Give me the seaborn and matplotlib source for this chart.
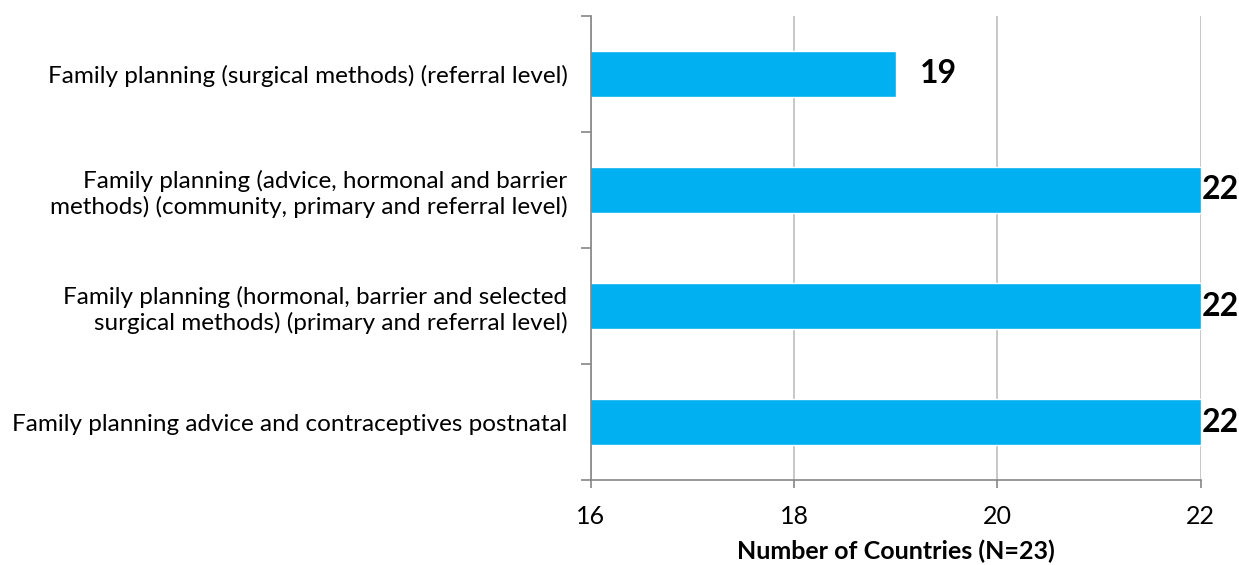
import matplotlib
matplotlib.use("Agg")
import matplotlib.pyplot as plt
from matplotlib.ticker import FixedLocator
import seaborn as sns
import pandas as pd

# chart data
categories = [
    "Family planning (surgical methods) (referral level)",
    "Family planning (advice, hormonal and barrier\nmethods) (community, primary and referral level)",
    "Family planning (hormonal, barrier and selected\nsurgical methods) (primary and referral level)",
    "Family planning advice and contraceptives postnatal",
]
countries = [19, 22, 22, 22]
x_ticks = [16, 18, 20, 22]

BAR_COLOR = "#00B0F0"
AXIS_GREY = "#868686"
GRID_GREY = "#BFBFBF"

sns.set_theme(style="white")
plt.rcParams["font.family"] = ["Lato", "DejaVu Sans"]
plt.rcParams["text.color"] = "black"
plt.rcParams["axes.labelcolor"] = "black"
plt.rcParams["xtick.color"] = "black"
plt.rcParams["ytick.color"] = "black"

df = pd.DataFrame({"category": categories, "countries": countries})

fig = plt.figure(figsize=(12.39, 5.65), dpi=100)
ax = fig.add_axes([0.477, 0.150, 0.492, 0.822])

sns.barplot(data=df, x="countries", y="category", orient="h",
            color=BAR_COLOR, saturation=1, width=0.4, ax=ax)

ax.set_xlim(x_ticks[0], x_ticks[-1])
ax.set_ylim(len(categories) - 0.5, -0.5)
ax.set_xticks(x_ticks)
ax.set_xticklabels([str(t) for t in x_ticks], fontsize=18)
ax.tick_params(axis="x", bottom=True, length=6, color=AXIS_GREY, width=1.2,
               pad=12, labelcolor="black")

# y ticks: labels at centers, tick marks at boundaries
ax.tick_params(axis="y", which="major", left=False, length=0, pad=17,
               labelsize=17.5, labelcolor="black")
ax.yaxis.set_minor_locator(FixedLocator([i - 0.5 for i in range(len(categories) + 1)]))
ax.tick_params(axis="y", which="minor", left=True, length=7, color=AXIS_GREY,
               width=1.2, direction="out")
for lab in ax.get_yticklabels():
    lab.set_multialignment("right")

ax.xaxis.grid(True, color=GRID_GREY, linewidth=1.2)
ax.set_axisbelow(True)

for side in ["top", "right"]:
    ax.spines[side].set_visible(False)
for side in ["left", "bottom"]:
    ax.spines[side].set_color(AXIS_GREY)
    ax.spines[side].set_linewidth(1.2)

ax.set_ylabel("")
ax.set_xlabel("Number of Countries (N=23)", fontsize=18, fontweight="bold", labelpad=8)

# value labels; labels at the axis limit sit right at the bar end
for bar, val in zip(ax.patches, countries):
    pad = 17 if val < x_ticks[-1] else 0.5
    ax.annotate(str(val), (bar.get_width() + bar.get_x(), bar.get_y() + bar.get_height() / 2),
                xytext=(pad, 0), textcoords="offset points", ha="left", va="center",
                fontsize=23, fontweight="bold", annotation_clip=False)

fig.savefig("out.png", dpi=100)
